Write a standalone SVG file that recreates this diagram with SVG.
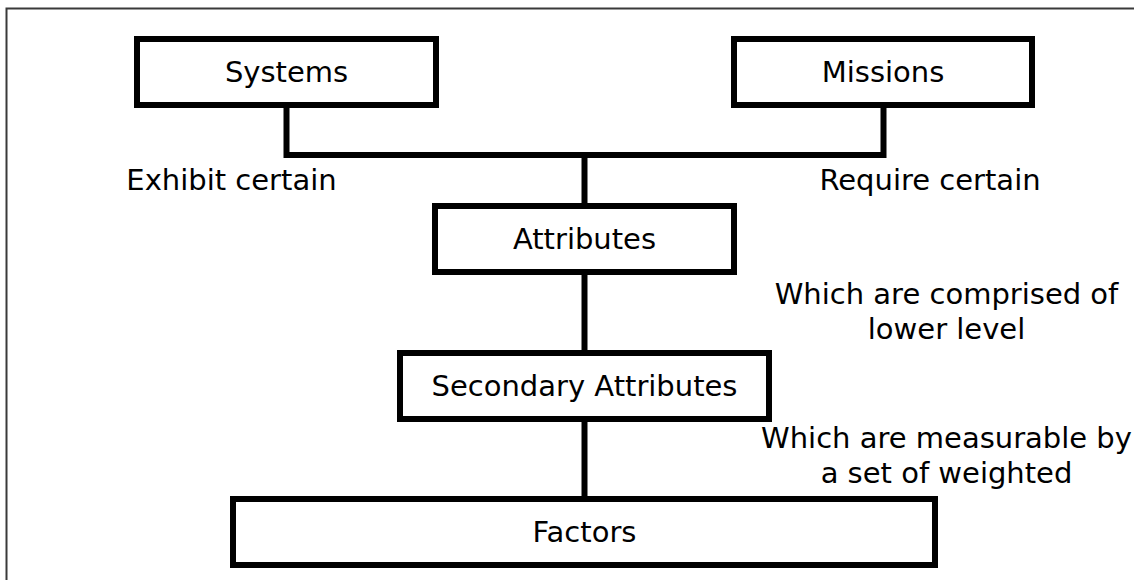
<svg xmlns="http://www.w3.org/2000/svg" width="1134" height="580" viewBox="0 0 1134 580">
  <style>
    .box { fill: #ffffff; stroke: #000000; stroke-width: 6; }
    .wire { fill: none; stroke: #000000; stroke-width: 6; }
    .lbl { font-family: "DejaVu Sans", Verdana, sans-serif; font-size: 29px; fill: #000000; text-anchor: middle; }
  </style>
  <rect x="0" y="0" width="1134" height="580" fill="#ffffff"/>
  <!-- page frame: only the top and left edges fall inside the view -->
  <path d="M6.5 600 V8.5 H1140" fill="none" stroke="#3a3a3a" stroke-width="2"/>

  <g id="connectors">
    <path class="wire" d="M286.5 108 V155 H883.5 V108"/>
    <path class="wire" d="M584.5 155 V203"/>
    <path class="wire" d="M584.5 275 V350"/>
    <path class="wire" d="M584.5 422 V496"/>
  </g>

  <g id="systems">
    <rect class="box" x="137" y="39" width="299" height="66"/>
    <text class="lbl" x="286.5" y="82">Systems</text>
  </g>
  <g id="missions">
    <rect class="box" x="734" y="39" width="298" height="66"/>
    <text class="lbl" x="883" y="82">Missions</text>
  </g>
  <g id="attributes">
    <rect class="box" x="435" y="206" width="299" height="66"/>
    <text class="lbl" x="584.5" y="249">Attributes</text>
  </g>
  <g id="secondary-attributes">
    <rect class="box" x="400" y="353" width="369" height="66"/>
    <text class="lbl" x="584.5" y="396">Secondary Attributes</text>
  </g>
  <g id="factors">
    <rect class="box" x="233" y="499" width="702" height="66"/>
    <text class="lbl" x="584.5" y="542">Factors</text>
  </g>

  <g id="edge-labels">
    <text class="lbl" x="231.5" y="190">Exhibit certain</text>
    <text class="lbl" x="930" y="190">Require certain</text>
    <text class="lbl" x="946.5" y="304">Which are comprised of</text>
    <text class="lbl" x="946.5" y="339">lower level</text>
    <text class="lbl" x="946.5" y="448">Which are measurable by</text>
    <text class="lbl" x="946.5" y="483">a set of weighted</text>
  </g>
</svg>
